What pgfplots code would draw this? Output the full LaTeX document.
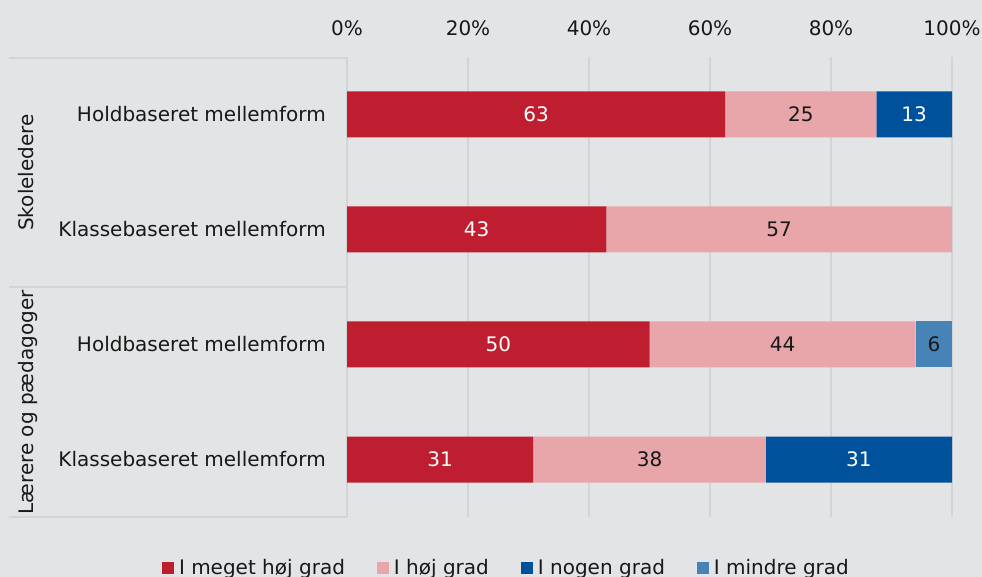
\documentclass[border=0pt]{standalone}
\usepackage{pgfplots}
\pgfplotsset{compat=1.18}
\usepackage{fontspec}
\setmainfont{DejaVu Sans}
\definecolor{bgc}{RGB}{227,228,230}
\definecolor{gridc}{RGB}{211,212,214}
\definecolor{c1}{RGB}{190,30,47}
\definecolor{c2}{RGB}{232,166,170}
\definecolor{c3}{RGB}{0,81,156}
\definecolor{c4}{RGB}{72,131,184}
\definecolor{txt}{RGB}{24,24,24}
\newcommand\f{\fontsize{20bp}{24bp}\selectfont}
\begin{document}
\begin{tikzpicture}[x=1bp,y=1bp]
\fill[bgc] (0,0) rectangle (982,577);
\clip (0,0) rectangle (982,577);
\draw[gridc, line width=1.8bp] (9,519) -- (347,519);
\draw[gridc, line width=1.8bp] (9,290) -- (347,290);
\draw[gridc, line width=1.8bp] (9,60) -- (347,60);
\node[rotate=90, anchor=base, font=\f, text=txt] at (33,404.5) {Skoleledere};
\node[rotate=90, anchor=base, font=\f, text=txt] at (33,174.5) {Lærere og pædagoger};
\begin{axis}[
  at={(347bp,60bp)}, anchor=south west,
  scale only axis, width=605bp, height=460bp,
  xbar stacked, bar width=46bp,
  xmin=0, xmax=100, ymin=-0.5, ymax=3.5, y dir=reverse,
  enlargelimits=false,
  /pgf/number format/assume math mode=true,
  xtick={0,20,40,60,80,100},
  xticklabel pos=upper,
  xticklabel={\pgfmathprintnumber{\tick}\%},
  ytick={0,1,2,3},
  yticklabels={Holdbaseret mellemform, Klassebaseret mellemform, Holdbaseret mellemform, Klassebaseret mellemform},
  major tick length=0pt,
  axis line style={draw=none},
  xmajorgrids, grid style={gridc, line width=1.5bp},
  tick label style={font=\f, text=txt},
  xticklabel style={anchor=base, inner sep=0pt, yshift=21bp},
  yticklabel style={anchor=east, inner sep=0pt, xshift=-21bp},
  legend image code/.code={\fill[#1] (0bp,-6bp) rectangle (12bp,6bp);},
  legend columns=4,
  legend style={draw=none, fill=none, font=\f, text=txt,
    at={(0.2636,-0.111)}, anchor=center, inner sep=0pt,
    /tikz/every odd column/.append style={column sep=3bp},
    /tikz/every even column/.append style={column sep=30bp}},
]
\addplot[fill=c1, draw=none] coordinates {(62.5,0) (42.86,1) (50,2) (30.77,3)};
\addplot[fill=c2, draw=none] coordinates {(25,0) (57.14,1) (44,2) (38.46,3)};
\addplot[fill=c3, draw=none] coordinates {(12.5,0) (0,1) (0,2) (30.77,3)};
\addplot[fill=c4, draw=none] coordinates {(0,0) (0,1) (6,2) (0,3)};
\legend{I meget høj grad, I høj grad, I nogen grad, I mindre grad}
\end{axis}
\begin{axis}[
  at={(347bp,60bp)}, anchor=south west,
  scale only axis, width=605bp, height=460bp,
  xmin=0, xmax=100, ymin=-0.5, ymax=3.5, y dir=reverse,
  hide axis, clip=false,
]
\addplot[only marks, mark=none, nodes near coords, point meta=explicit symbolic,
  every node near coord/.append style={anchor=center, font=\f, text=white}]
  coordinates {(31.25,0)[63] (93.75,0)[13] (21.43,1)[43] (25,2)[50] (15.38,3)[31] (84.62,3)[31]};
\addplot[only marks, mark=none, nodes near coords, point meta=explicit symbolic,
  every node near coord/.append style={anchor=center, font=\f, text=txt}]
  coordinates {(75,0)[25] (71.43,1)[57] (72,2)[44] (97,2)[6] (50,3)[38]};
\end{axis}
\end{tikzpicture}
\end{document}
